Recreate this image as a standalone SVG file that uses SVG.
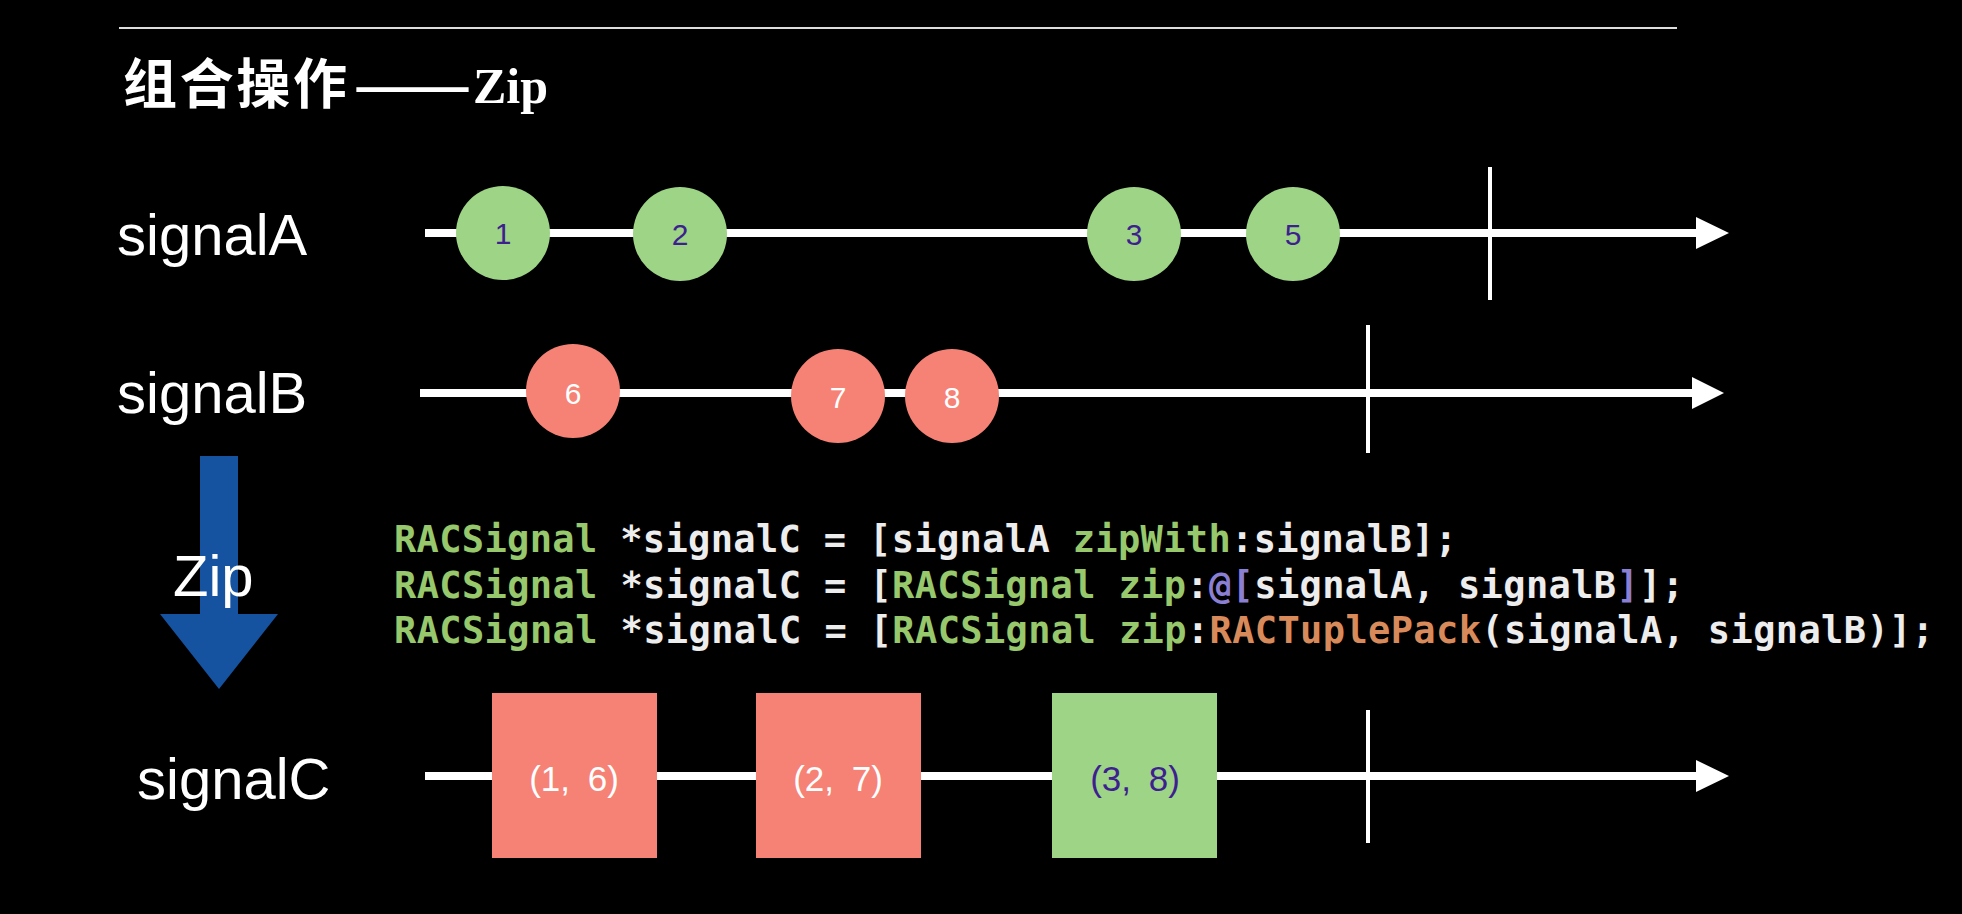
<svg xmlns="http://www.w3.org/2000/svg" width="1962" height="914" viewBox="0 0 1962 914">
<style>
.lbl{font-family:"Liberation Sans",Arial,sans-serif;font-size:58px;fill:#ffffff}
.dot-g{fill:#9DD486}
.dot-r{fill:#F68276}
.num{font-family:"Liberation Sans",Arial,sans-serif;font-size:30px;text-anchor:middle}
.pur{fill:#3E1F8F}
.wht{fill:#ffffff}
.tup{font-family:"Liberation Sans",Arial,sans-serif;font-size:35px;text-anchor:middle;word-spacing:8px}
.line{stroke:#ffffff;stroke-width:8;fill:none}
.tick{stroke:#ffffff;stroke-width:4;fill:none}
.head{fill:#ffffff}
.code{font-family:"DejaVu Sans Mono",Menlo,monospace;font-weight:bold;font-size:37px;fill:#EDEDED}
.cg{fill:#97C86C}
.cp{fill:#8B7FD4}
.co{fill:#D88A5A}
</style>
<rect x="0" y="0" width="1962" height="914" fill="#000000"/>
<line x1="119" y1="28" x2="1677" y2="28" stroke="#dddddd" stroke-width="2"/>
<g id="title">
<text x="123" y="104" font-family="'Noto Sans CJK SC',sans-serif" font-weight="bold" font-size="54" fill="#ffffff" textLength="224" lengthAdjust="spacing">组合操作</text>
<text x="353" y="104" font-family="'Noto Sans CJK SC',sans-serif" font-weight="bold" font-size="50" fill="#ffffff" textLength="119" lengthAdjust="spacingAndGlyphs">——</text>
<text x="473" y="103" font-family="'Liberation Serif','Times New Roman',serif" font-weight="bold" font-size="50" fill="#ffffff">Zip</text>
</g>
<g id="labels">
<text class="lbl" x="117" y="255">signalA</text>
<text class="lbl" x="117" y="413">signalB</text>
<text class="lbl" x="137" y="799">signalC</text>
</g>
<g id="connectors">
<line class="line" x1="425" y1="233" x2="1700" y2="233"/>
<polygon class="head" points="1696,217 1729,233 1696,249"/>
<line class="tick" x1="1490" y1="167" x2="1490" y2="300"/>
<line class="line" x1="420" y1="393" x2="1696" y2="393"/>
<polygon class="head" points="1692,377 1724,393 1692,409"/>
<line class="tick" x1="1368" y1="325" x2="1368" y2="453"/>
<line class="line" x1="425" y1="776" x2="1700" y2="776"/>
<polygon class="head" points="1696,760 1729,776 1696,792"/>
<line class="tick" x1="1368" y1="710" x2="1368" y2="843"/>
<polygon id="zip-arrow" fill="#1552A0" points="200,456 238,456 238,614 278,614 219,689 160,614 200,614"/>
</g>
<text class="lbl" x="173" y="596">Zip</text>
<g id="a1"><circle class="dot-g" cx="503" cy="233" r="47"/><text class="num pur" x="503" y="244">1</text></g>
<g id="a2"><circle class="dot-g" cx="680" cy="234" r="47"/><text class="num pur" x="680" y="245">2</text></g>
<g id="a3"><circle class="dot-g" cx="1134" cy="234" r="47"/><text class="num pur" x="1134" y="245">3</text></g>
<g id="a5"><circle class="dot-g" cx="1293" cy="234" r="47"/><text class="num pur" x="1293" y="245">5</text></g>
<g id="b6"><circle class="dot-r" cx="573" cy="391" r="47"/><text class="num wht" x="573" y="404">6</text></g>
<g id="b7"><circle class="dot-r" cx="838" cy="396" r="47"/><text class="num wht" x="838" y="408">7</text></g>
<g id="b8"><circle class="dot-r" cx="952" cy="396" r="47"/><text class="num wht" x="952" y="408">8</text></g>
<g id="code">
<text class="code" x="394" y="552" textLength="1063" lengthAdjust="spacing"><tspan class="cg">RACSignal</tspan> *signalC = [signalA <tspan class="cg">zipWith</tspan>:signalB];</text>
<text class="code" x="394" y="598" textLength="1290" lengthAdjust="spacing"><tspan class="cg">RACSignal</tspan> *signalC = [<tspan class="cg">RACSignal zip</tspan>:<tspan class="cp">@[</tspan>signalA, signalB<tspan class="cp">]</tspan>];</text>
<text class="code" x="394" y="643" textLength="1540" lengthAdjust="spacing"><tspan class="cg">RACSignal</tspan> *signalC = [<tspan class="cg">RACSignal zip</tspan>:<tspan class="co">RACTuplePack</tspan>(signalA, signalB)];</text>
</g>
<g id="c1"><rect class="dot-r" x="492" y="693" width="165" height="165"/><text class="tup wht" x="574" y="791">(1, 6)</text></g>
<g id="c2"><rect class="dot-r" x="756" y="693" width="165" height="165"/><text class="tup wht" x="838" y="791">(2, 7)</text></g>
<g id="c3"><rect class="dot-g" x="1052" y="693" width="165" height="165"/><text class="tup pur" x="1135" y="791">(3, 8)</text></g>
</svg>
